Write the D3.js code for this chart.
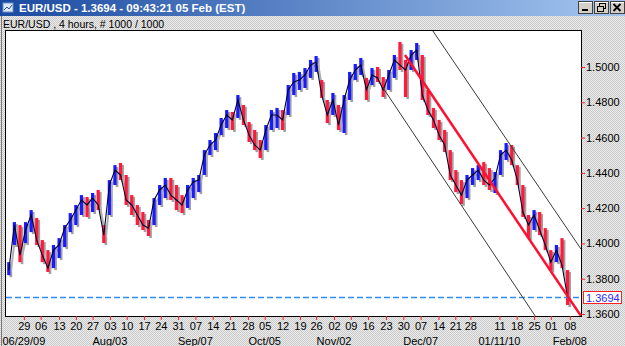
<!DOCTYPE html>
<meta charset="utf-8">
<script src="https://d3js.org/d3.v7.min.js"></script>
<style>
  body { margin: 0; overflow: hidden; }
  svg text { font-family: "Liberation Sans", Arial, sans-serif; }
</style>
<div id="chart"></div>
<script>
// EUR/USD 4h prices, one entry every 10 bars (bar 0 .. 1000)
var highs = [1.3894,1.4121,1.4104,1.4121,1.4189,1.4144,1.4019,1.3962,1.3991,1.4030,
  1.4104,1.4172,1.4218,1.4274,1.4263,1.4286,1.4303,1.4104,1.4359,1.4444,
  1.4456,1.4388,1.4274,1.4218,1.4178,1.4133,1.4257,1.4331,1.4371,1.4371,
  1.4331,1.4274,1.4331,1.4371,1.4388,1.4529,1.4586,1.4626,1.4711,1.4756,
  1.4745,1.4841,1.4785,1.4688,1.4643,1.4586,1.4671,1.4756,1.4768,1.4756,
  1.4898,1.4966,1.4972,1.4994,1.5040,1.5062,1.4926,1.4813,1.4853,1.4785,
  1.4841,1.4972,1.5017,1.5051,1.4938,1.4994,1.5000,1.4943,1.4983,1.5068,
  1.5142,1.5040,1.5096,1.5136,1.5068,1.4870,1.4768,1.4700,1.4643,1.4529,
  1.4416,1.4359,1.4388,1.4427,1.4444,1.4461,1.4427,1.4405,1.4529,1.4569,
  1.4558,1.4444,1.4331,1.4161,1.4189,1.4178,1.4087,1.3962,1.3991,1.4030,
  1.3849];
var lows = [1.3820,1.3991,1.3894,1.4002,1.4064,1.3991,1.3894,1.3838,1.3860,1.3917,
  1.3979,1.4064,1.4104,1.4161,1.4150,1.4178,1.4189,1.4002,1.4161,1.4331,
  1.4359,1.4218,1.4161,1.4104,1.4076,1.4042,1.4104,1.4218,1.4257,1.4246,
  1.4189,1.4172,1.4201,1.4257,1.4291,1.4388,1.4501,1.4529,1.4614,1.4654,
  1.4643,1.4711,1.4671,1.4575,1.4529,1.4484,1.4529,1.4643,1.4654,1.4643,
  1.4728,1.4841,1.4870,1.4881,1.4938,1.4972,1.4824,1.4682,1.4728,1.4643,
  1.4626,1.4813,1.4926,1.4955,1.4813,1.4898,1.4915,1.4830,1.4870,1.4938,
  1.4983,1.4830,1.4983,1.5040,1.4813,1.4728,1.4654,1.4586,1.4518,1.4359,
  1.4291,1.4223,1.4257,1.4331,1.4359,1.4331,1.4303,1.4286,1.4388,1.4473,
  1.4444,1.4331,1.4150,1.4030,1.4076,1.4047,1.3962,1.3849,1.3894,1.3860,
  1.3651];
var closes = [1.3849,1.4104,1.3934,1.4076,1.4161,1.4019,1.3934,1.3860,1.3962,1.3991,
  1.4087,1.4133,1.4189,1.4246,1.4218,1.4257,1.4218,1.4047,1.4331,1.4416,
  1.4388,1.4246,1.4218,1.4161,1.4104,1.4087,1.4246,1.4303,1.4331,1.4274,
  1.4246,1.4218,1.4303,1.4348,1.4359,1.4501,1.4558,1.4586,1.4671,1.4728,
  1.4700,1.4813,1.4700,1.4614,1.4558,1.4529,1.4643,1.4728,1.4728,1.4700,
  1.4870,1.4915,1.4926,1.4955,1.5011,1.5028,1.4841,1.4728,1.4813,1.4671,
  1.4813,1.4926,1.4983,1.5011,1.4870,1.4955,1.4938,1.4870,1.4955,1.5040,
  1.5011,1.4983,1.5068,1.5096,1.4841,1.4756,1.4700,1.4614,1.4558,1.4388,
  1.4331,1.4274,1.4359,1.4388,1.4416,1.4359,1.4331,1.4371,1.4501,1.4529,
  1.4473,1.4359,1.4178,1.4104,1.4161,1.4076,1.3991,1.3894,1.3962,1.3877,
  1.3694];
var barStep = 10;

// weekly ticks (bar index) and labels
var tickBars = [27,57,90,120,150,181,211,242,272,303,334,365,396,428,458,490,521,550,
  582,612,643,675,706,737,769,799,826,878,909,940,970,1004];
var tickLabels = ["29","06","13","20","27","03","10","17","24","31","07","14","21","28",
  "05","12","19","26","02","09","16","23","30","07","14","21","28","11","18","25","01","08"];
var monthTicks = [27,181,334,458,582,737,878,1004];
var monthLabels = ["06/29/09","Aug/03","Sep/07","Oct/05","Nov/02","Dec/07","01/11/10","Feb/08"];
var priceTicks = [1.36,1.38,1.40,1.42,1.44,1.46,1.48,1.50];
var lastPrice = 1.3694;

// trend line and channel, [bar, price]
var trendLine = [[709,1.5068],[1024,1.3589]];
var channelTop = [[759,1.5204],[1024,1.3968]];
var channelBottom = [[670,1.4881],[942,1.3589]];

var W = 625, H = 346;
var plot = {left: 6, top: 31, right: 581, bottom: 316};

var svg = d3.select("#chart").append("svg")
    .attr("width", W).attr("height", H);

var defs = svg.append("defs");
var pat = defs.append("pattern").attr("id", "dither")
    .attr("width", 2).attr("height", 2).attr("patternUnits", "userSpaceOnUse");
pat.append("rect").attr("width", 2).attr("height", 2).attr("fill", "#ececec");
pat.append("rect").attr("width", 1).attr("height", 1).attr("fill", "#c9c9c9");
pat.append("rect").attr("x", 1).attr("y", 1).attr("width", 1).attr("height", 1).attr("fill", "#c9c9c9");

var grad = defs.append("linearGradient").attr("id", "titlebar");
grad.append("stop").attr("offset", "0%").attr("stop-color", "#1a4aa0");
grad.append("stop").attr("offset", "100%").attr("stop-color", "#a4c6f0");

defs.append("clipPath").attr("id", "clip").append("rect")
    .attr("x", plot.left).attr("y", plot.top)
    .attr("width", plot.right - plot.left).attr("height", plot.bottom - plot.top);

// window background
svg.append("rect").attr("width", W).attr("height", H).attr("fill", "url(#dither)");
svg.append("line").attr("x1", 1.5).attr("x2", 1.5).attr("y1", 15).attr("y2", H)
    .attr("stroke", "#7a7a7a");

// title bar
svg.append("rect").attr("width", W).attr("height", 16).attr("fill", "url(#titlebar)");
svg.append("rect").attr("x", 3).attr("y", 3).attr("width", 10).attr("height", 9)
    .attr("fill", "#dfe8f5").attr("stroke", "#6f8fc8");
svg.append("path").attr("d", "M4,10 L7,7 L9,9 L12,5").attr("fill", "none").attr("stroke", "#3050a0");
svg.append("text").attr("x", 19).attr("y", 12)
    .attr("fill", "#fff").attr("font-weight", "bold").attr("font-size", "11.5px")
    .text("EUR/USD - 1.3694 - 09:43:21  05 Feb (EST)");

var btnX = [578, 594, 610];
btnX.forEach(function(bx) {
  svg.append("rect").attr("x", bx + 0.5).attr("y", 1.5).attr("width", 14).attr("height", 12)
      .attr("fill", "#d4d0c8").attr("stroke", "#404040");
  svg.append("line").attr("x1", bx + 1).attr("x2", bx + 14).attr("y1", 2.5).attr("y2", 2.5).attr("stroke", "#fff");
});
svg.append("rect").attr("x", 582).attr("y", 9).attr("width", 6).attr("height", 2).attr("fill", "#000");
svg.append("rect").attr("x", 599.5).attr("y", 3.5).attr("width", 6).attr("height", 5).attr("fill", "none").attr("stroke", "#000");
svg.append("rect").attr("x", 597.5).attr("y", 6.5).attr("width", 6).attr("height", 5).attr("fill", "#d4d0c8").attr("stroke", "#000");
svg.append("path").attr("d", "M613.5,4 L620.5,11 M620.5,4 L613.5,11").attr("stroke", "#000").attr("stroke-width", 1.8);

svg.append("text").attr("x", 3).attr("y", 28).attr("font-size", "10.5px").attr("fill", "#000")
    .text("EUR/USD , 4 hours, # 1000 / 1000");

// plot area
svg.append("rect").attr("x", plot.left - 0.5).attr("y", plot.top - 0.5)
    .attr("width", plot.right - plot.left + 1).attr("height", plot.bottom - plot.top + 1)
    .attr("fill", "#fff").attr("stroke", "#000");

var x = d3.scaleLinear().domain([-5, 1024]).range([plot.left, plot.right]);
var y = d3.scaleLinear().domain([1.36, 1.50]).range([314, 67]);

var bars = closes.map(function(c, i) {
  return {bar: i * barStep, high: highs[i], low: lows[i], close: c,
          open: i ? closes[i - 1] : c};
});

var g = svg.append("g").attr("clip-path", "url(#clip)");

var closeLine = d3.line()
    .x(function(d) { return x(d.bar); })
    .y(function(d) { return y(d.close); });

// gray shadow
g.selectAll(".shadow").data(bars).enter().append("rect")
    .attr("x", function(d) { return x(d.bar) + 0.8; })
    .attr("y", function(d) { return y(d.high) + 2; })
    .attr("width", 2.6)
    .attr("height", function(d) { return y(d.low) - y(d.high); })
    .attr("fill", "#a0a0a0");
g.append("path").datum(bars).attr("d", closeLine)
    .attr("transform", "translate(2,2)")
    .attr("fill", "none").attr("stroke", "#b0b0b0").attr("stroke-width", 2);

// coloured ranges
g.selectAll(".bar").data(bars).enter().append("rect")
    .attr("x", function(d) { return x(d.bar) - 1.6; })
    .attr("y", function(d) { return y(d.high); })
    .attr("width", 3.2)
    .attr("height", function(d) { return y(d.low) - y(d.high); })
    .attr("fill", function(d) { return d.close >= d.open ? "#1a1aff" : "#ff1a3c"; });

// dark price trace
g.append("path").datum(bars).attr("d", closeLine)
    .attr("fill", "none").attr("stroke", "#00002e").attr("stroke-width", 1.1);

// current price dashed line
var ly = Math.round(y(lastPrice)) + 0.5;
g.append("line").attr("x1", plot.left).attr("x2", plot.right)
    .attr("y1", ly).attr("y2", ly)
    .attr("stroke", "#2f8cf0").attr("stroke-width", 1.5).attr("stroke-dasharray", "6,3");

// channel and trend line
var line = d3.line().x(function(d) { return x(d[0]); }).y(function(d) { return y(d[1]); });
g.append("path").attr("d", line(channelTop)).attr("fill", "none").attr("stroke", "#3a3a3a");
g.append("path").attr("d", line(channelBottom)).attr("fill", "none").attr("stroke", "#3a3a3a");
g.append("path").attr("d", line(trendLine)).attr("fill", "none").attr("stroke", "#ff1030").attr("stroke-width", 2.5);

// axes
var xAxis = svg.append("g").attr("transform", "translate(0," + plot.bottom + ")")
    .call(d3.axisBottom(x).tickValues(tickBars)
      .tickFormat(function(d, i) { return tickLabels[i]; })
      .tickSize(4).tickPadding(2));
xAxis.select(".domain").remove();
xAxis.selectAll("line").attr("stroke", "#ff2020");
xAxis.selectAll("text").attr("font-size", "11px").attr("fill", "#000")
    .style("font-family", "'Liberation Sans', Arial, sans-serif");

svg.selectAll(".month").data(monthTicks).enter().append("text")
    .attr("x", function(d) { return x(d); }).attr("y", 345)
    .attr("text-anchor", "middle").attr("font-size", "11px").attr("fill", "#000")
    .text(function(d, i) { return monthLabels[i]; });

var yAxis = svg.append("g").attr("transform", "translate(" + plot.right + ",0)")
    .call(d3.axisRight(y).tickValues(priceTicks).tickFormat(d3.format(".4f"))
      .tickSize(4).tickPadding(1));
yAxis.select(".domain").remove();
yAxis.selectAll("line").attr("stroke", "#ff2020");
yAxis.selectAll("text").attr("font-size", "11px").attr("fill", "#000")
    .style("font-family", "'Liberation Sans', Arial, sans-serif");

// last price label
svg.append("rect").attr("x", 583.5).attr("y", ly - 6).attr("width", 38).attr("height", 12)
    .attr("fill", "#fff").attr("stroke", "#ff2020");
svg.append("text").attr("x", 586).attr("y", ly + 4).attr("font-size", "11px").attr("fill", "#2a2aff")
    .text(d3.format(".4f")(lastPrice));
</script>
